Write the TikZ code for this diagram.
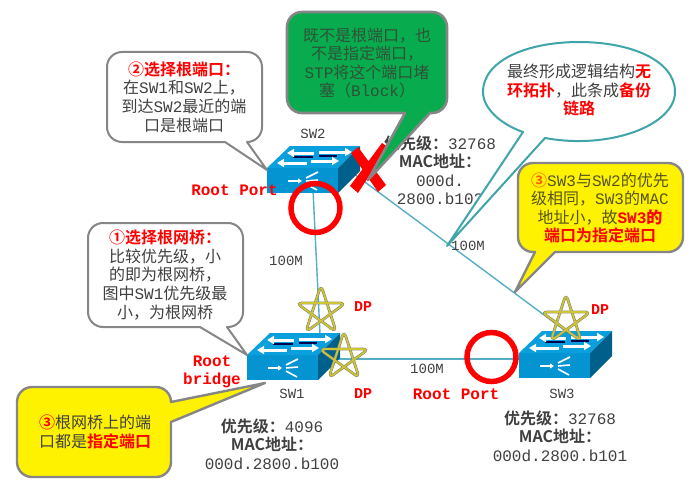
\documentclass[tikz,border=0pt]{standalone}
\usepackage{fontspec}
\setmainfont{Liberation Mono}
\newfontfamily\cjk{Noto Sans CJK SC}
\newfontfamily\cjkb{Noto Sans CJK SC Bold}
\usetikzlibrary{arrows.meta}
\newcommand\zh[1]{{\cjk #1}}
\newcommand\zb[1]{{\cjkb #1}}
\definecolor{txt}{HTML}{404040}
\definecolor{lnk}{HTML}{55AEC6}
\definecolor{bord}{HTML}{868686}
\definecolor{hotred}{HTML}{FF0000}
\definecolor{swfront}{HTML}{0494D2}
\definecolor{swtop}{HTML}{0A9FDD}
\definecolor{swside}{HTML}{00608C}
\definecolor{starc}{HTML}{CDC436}
\definecolor{stargray}{HTML}{85856A}
\definecolor{boxgreen}{HTML}{08AB4E}
\definecolor{greentxt}{HTML}{2F5238}
\definecolor{yellowtxt}{HTML}{55551A}
\definecolor{ellborder}{HTML}{3FA5A8}
\tikzset{
  x=1pt,y=-1pt,
  linkline/.style={draw=lnk,line width=1.4pt},
  calloutw/.style={draw=bord,line width=2pt,fill=white,line join=round},
  callouty/.style={draw=bord,line width=2.4pt,fill=yellow,line join=round},
  calloutg/.style={draw=bord,line width=2.6pt,fill=boxgreen,line join=round},
  calloute/.style={draw=ellborder,line width=2pt,fill=white,line join=round},
  ctext/.style={align=center,text=txt,inner sep=0pt,font=\fontsize{16}{18.6}\selectfont},
  rlabel/.style={text=hotred,inner sep=0pt,align=center,font=\bfseries\fontsize{16}{18}\selectfont},
  dplabel/.style={text=hotred,inner sep=0pt,font=\bfseries\fontsize{15}{18}\selectfont},
  glabel/.style={text=txt,inner sep=0pt,font=\fontsize{14}{16}\selectfont},
  info/.style={text=txt,inner sep=0pt,align=center,font=\fontsize{16}{18.5}\selectfont},
  ringmark/.style={draw=red,line width=5.5pt},
  swarrow/.style={draw=white,line width=3pt,-{Triangle[length=7pt,width=8pt]}},
  swicon/.pic={
    \fill[swfront] (0,0) rectangle (71,25);
    \fill[swtop] (0,0) -- (71,0) -- (93,-22) -- (23,-22) -- cycle;
    \fill[swside] (71,0) -- (93,-22) -- (93,3) -- (71,25) -- cycle;
    \draw[black!70!blue,line width=1.2pt] (26,-11) -- (46,-11) (52,-12) -- (70,-12);
    \draw[swarrow] (47,-15) -- (20,-15);
    \draw[swarrow] (52,-16) -- (85,-16);
    \draw[swarrow] (40,-5) -- (10,-5);
    \draw[swarrow] (44,-7) -- (72,-7);
    \draw[white,line width=1.8pt,-{Triangle[length=4pt,width=5pt]}] (21,13) -- (35,13);
    \draw[white,line width=1.6pt] (39,10) -- (51,4) (39,13) -- (51,12) (39,16) -- (50,22);
  },
  starmark/.pic={
    \foreach \c/\w in {stargray/2.8,starc/1.7}{
      \draw[\c,line width=\w pt,rounded corners=6pt,line cap=round]
        (-90:26) -- (54:26) -- (198:26) -- (-18:26) -- (126:26) -- cycle;
    }
  }
}
\begin{document}
\begin{tikzpicture}
\useasboundingbox (0,0) rectangle (692,484);
% anchors
\coordinate (sw2down) at (313,190);
\coordinate (sw2right) at (350,171);
\coordinate (sw1up) at (320,334);
\coordinate (sw1right) at (318,359);
\coordinate (sw3left) at (521,359);
\coordinate (sw3up) at (567,332);
% links
\draw[linkline] (sw2down) -- (sw1up);
\draw[linkline] (sw2right) -- (sw3up);
\draw[linkline] (sw1right) -- (sw3left);
% switches
\pic at (267,168) {swicon};
\pic at (247,355) {swicon};
\pic at (519,353) {swicon};
\node[glabel] (sw2name) at (313,134) {SW2};
\node[glabel] (sw1name) at (292,394) {SW1};
\node[glabel] (sw3name) at (562,394) {SW3};
% link labels
\node[glabel] (la) at (286,261) {100M};
\node[glabel] (lb) at (468,246) {100M};
\node[glabel] (lc) at (427,369) {100M};
% info
\node[info,anchor=north] (info2) at (440,135.5) {\zb{优先级：}32768\\\zb{MAC地址：}\\000d.\\2800.b102};
\node[info,anchor=north] (info1) at (272,418.5) {\zb{优先级：}4096\\\zb{MAC地址：}\\000d.2800.b100};
\node[info,anchor=north] (info3) at (560,410.5) {\zb{优先级：}32768\\\zb{MAC地址：}\\000d.2800.b101};
% stars
\pic at (321,311) {starmark};
\pic at (344,357) {starmark};
\pic at (566,320) {starmark};
% rings
\draw[ringmark] (315.5,208) circle (24.5);
\draw[ringmark] (491.5,357) circle (24.5);
% labels
\node[rlabel] (rp2) at (234.5,190) {Root Port};
\node[rlabel] (rp3) at (456,394) {Root Port};
\node[rlabel] (rb) at (212,372) {Root\\bridge};
\node[dplabel] (dpa) at (363,307) {DP};
\node[dplabel] (dpb) at (363,394) {DP};
\node[dplabel] (dpc) at (600,310) {DP};
% red cross
\fill[red] (351,153) -- (358,147) -- (386,185) -- (378,192) -- cycle;
\fill[red] (388,147) -- (382,143) -- (350,186) -- (358,193) -- cycle;
% green callout
\path[calloutg] (367,12) [rounded corners=15pt] -- (447,12) -- (447,113) [sharp corners] -- (430,113) -- (368,180) -- (405,113) [rounded corners=15pt] -- (287,113) -- (287,12) -- cycle;
\node[ctext,text=greentxt] (tg) at (367,63) {\zh{既不是根端口，也}\\\zh{不是指定端口，}\\STP\zh{将这个端口堵}\\\zh{塞（}Block\zh{）}};
% white callout root port
\path[calloutw] (185,52) [rounded corners=15pt] -- (262,52) -- (262,142) [sharp corners] -- (247,142) -- (267,170) -- (225,142) [rounded corners=15pt] -- (107,142) -- (107,52) -- cycle;
\node[ctext] (t2) at (184,97) {\textcolor{hotred}{\zb{②选择根端口：}}\\\zh{在}SW1\zh{和}SW2\zh{上，}\\\zh{到达}SW2\zh{最近的端}\\\zh{口是根端口}};
% white callout root bridge
\path[calloutw] (165,223) [rounded corners=15pt] -- (243,223) -- (243,327) [sharp corners] -- (227,327) -- (247,355) -- (200,327) [rounded corners=15pt] -- (88,327) -- (88,223) -- cycle;
\node[ctext] (t1) at (165,275) {\textcolor{hotred}{\zb{①选择根网桥：}}\\\zh{比较优先级，小}\\\zh{的即为根网桥，}\\\zh{图中}SW1\zh{优先级最}\\\zh{小，为根网桥}};
% yellow callout bottom left
\path[callouty] (95,387) [rounded corners=15pt] -- (171,387) [sharp corners] -- (171,402) -- (265,383) -- (171,422) [rounded corners=15pt] -- (171,477) -- (17,477) -- (17,387) -- cycle;
\node[ctext] (t3) at (95,432) {\textcolor{hotred}{\zb{③}}\zh{根网桥上的端}\\\zh{口都是}\textcolor{hotred}{\zb{指定端口}}};
% yellow callout right
\path[callouty] (600,163) [rounded corners=15pt] -- (683,163) -- (683,252) [sharp corners] -- (555,252) -- (515,292) -- (535,252) [rounded corners=15pt] -- (518,252) -- (518,163) -- cycle;
\node[ctext,text=yellowtxt] (t4) at (600,208) {\textcolor{orange!70!red}{\zb{③}}SW3\zh{与}SW2\zh{的优先}\\\zh{级相同，}SW3\zh{的}MAC\\\zh{地址小，故}\textcolor{hotred}{\bfseries SW3\zb{的}}\\\textcolor{hotred}{\zb{端口为指定端口}}};
% ellipse callout
\path[calloute] (523,132) -- (447,246) -- (545,138) .. controls (610,150) and (675,125) .. (675,92) .. controls (675,60) and (630,42) .. (579,42) .. controls (528,42) and (483,60) .. (483,92) .. controls (483,108) and (500,124) .. (523,132) -- cycle;
\node[ctext] (t5) at (579,90) {\zh{最终形成逻辑结构}\textcolor{hotred}{\zb{无}}\\\textcolor{hotred}{\zb{环拓扑}}\zh{，此条成}\textcolor{hotred}{\zb{备份}}\\\textcolor{hotred}{\zb{链路}}};
\end{tikzpicture}
\end{document}
